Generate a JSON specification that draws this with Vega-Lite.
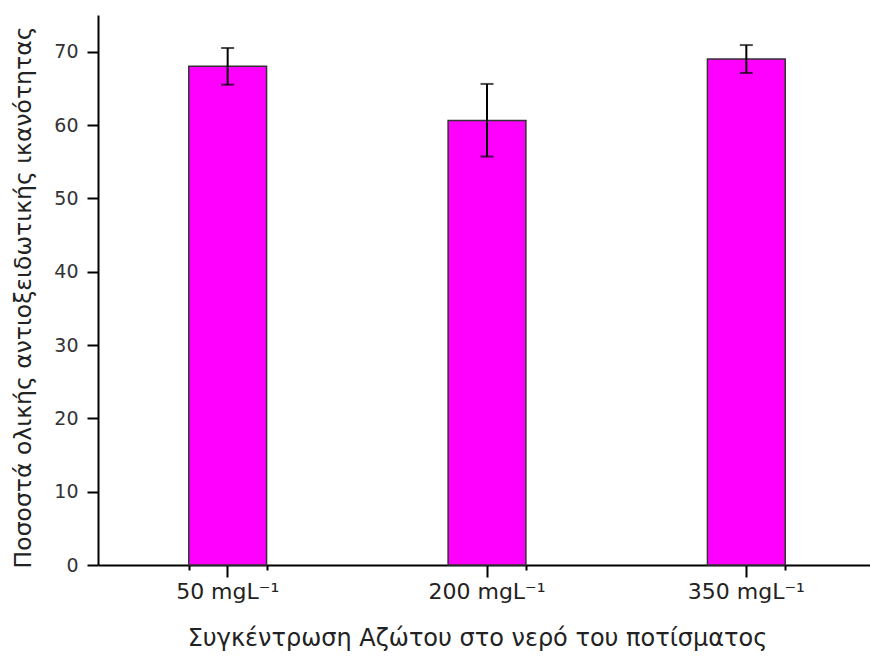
{
  "$schema": "https://vega.github.io/schema/vega-lite/v6.json",
  "width": 772,
  "height": 550,
  "autosize": {"type": "none"},
  "padding": {"left": 98, "top": 15, "right": 0, "bottom": 99},
  "background": "white",
  "config": {"view": {"stroke": null}, "font": "DejaVu Sans"},
  "data": {
    "values": [
      {"conc": "50 mgL⁻¹", "value": 68.0, "lo": 65.5, "hi": 70.5},
      {"conc": "200 mgL⁻¹", "value": 60.6, "lo": 55.7, "hi": 65.6},
      {"conc": "350 mgL⁻¹", "value": 69.0, "lo": 67.1, "hi": 70.9}
    ]
  },
  "encoding": {
    "x": {
      "field": "conc",
      "type": "nominal",
      "sort": null,
      "scale": {"range": [0, 778], "paddingInner": 0.7, "paddingOuter": 0.35},
      "axis": null
    }
  },
  "layer": [
    {
      "mark": {"type": "bar", "color": "#ff00ff", "stroke": "#333333", "strokeWidth": 1.5},
      "encoding": {
        "x": {
          "field": "conc",
          "type": "nominal",
          "sort": null,
          "scale": {"range": [0, 778], "paddingInner": 0.7, "paddingOuter": 0.35},
          "axis": {
            "orient": "bottom",
            "title": "Συγκέντρωση Αζώτου στο νερό του ποτίσματος",
            "titleFont": "DejaVu Sans",
            "titleFontSize": 24,
            "titleFontWeight": "normal",
            "titleColor": "#222222",
            "titlePadding": 24,
            "titleX": 379,
            "labelFont": "DejaVu Sans",
            "labelFontSize": 22,
            "labelColor": "#222222",
            "labelAngle": 0,
            "labelPadding": 4,
            "domainColor": "black",
            "domainWidth": 2,
            "tickColor": "black",
            "tickWidth": 2,
            "tickSize": 12
          }
        },
        "y": {
          "field": "value",
          "type": "quantitative",
          "scale": {"domain": [0, 75], "nice": false},
          "axis": {
            "title": "Ποσοστά ολικής αντιοξειδωτικής ικανότητας",
            "titleFont": "DejaVu Sans",
            "titleFontSize": 23.5,
            "titleFontWeight": "normal",
            "titleColor": "#222222",
            "titlePadding": 18,
            "titleY": 282,
            "values": [0, 5, 10, 15, 20, 25, 30, 35, 40, 45, 50, 55, 60, 65, 70, 75],
            "labelExpr": "datum.value % 10 === 0 ? datum.label : ''",
            "labelFont": "DejaVu Sans",
            "labelFontSize": 19,
            "labelColor": "#333333",
            "labelPadding": 9,
            "grid": false,
            "domainColor": "black",
            "domainWidth": 2,
            "tickColor": "black",
            "tickWidth": 2,
            "tickSize": {"condition": {"test": "datum.value % 10 === 0", "value": 11}, "value": 5}
          }
        }
      }
    },
    {
      "mark": {"type": "rule", "color": "black", "strokeWidth": 2},
      "encoding": {
        "y": {"field": "lo", "type": "quantitative"},
        "y2": {"field": "hi"}
      }
    },
    {
      "mark": {"type": "tick", "color": "black", "thickness": 2, "size": 13},
      "encoding": {"y": {"field": "lo", "type": "quantitative"}}
    },
    {
      "mark": {"type": "tick", "color": "black", "thickness": 2, "size": 13},
      "encoding": {"y": {"field": "hi", "type": "quantitative"}}
    },
    {
      "mark": {"type": "tick", "opacity": 0},
      "encoding": {
        "x": {
          "field": "conc",
          "type": "nominal",
          "sort": null,
          "scale": {"range": [0, 778], "paddingInner": 0.7, "paddingOuter": 0.35},
          "axis": {
            "orient": "bottom",
            "tickBand": "extent",
            "labels": false,
            "domain": false,
            "title": null,
            "tickColor": "black",
            "tickWidth": 2,
            "tickSize": 5
          }
        },
        "y": {"field": "value", "type": "quantitative"}
      }
    }
  ],
  "resolve": {"axis": {"x": "independent"}}
}
